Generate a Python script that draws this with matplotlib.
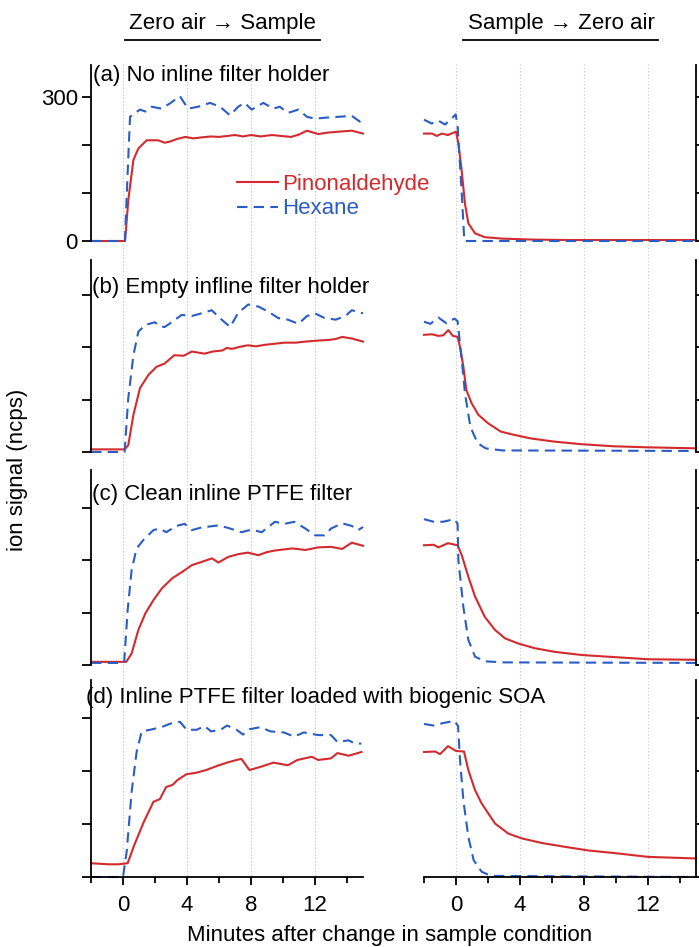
import numpy as np
import matplotlib.pyplot as plt
from matplotlib.lines import Line2D
from matplotlib.transforms import blended_transform_factory

plt.rcParams['font.family'] = ['Liberation Sans', 'DejaVu Sans']

RED = '#d42a2e'
BLUE = '#2a5cc6'

# (minutes, signal).
# panel (a) in ncps; panels (b)-(d) in tick units (one y tick = 1)
a_up_pin = [(-2, 0), (0.13, 0), (0.33, 85), (0.65, 169), (0.96, 193), (1.48, 210), (2.2, 210), (2.6, 205),
            (2.9, 207), (3.4, 213), (3.9, 217), (4.4, 214), (4.9, 216), (5.5, 218), (6.0, 217), (6.5, 219),
            (7.0, 221), (7.5, 218), (8.0, 221), (8.6, 218), (9.3, 221), (9.9, 219), (10.5, 217), (11.0, 222),
            (11.5, 230), (12.2, 223), (12.8, 226), (13.5, 228), (14.3, 230), (15, 224)]
a_up_hex = [(-2, 0), (0.12, 0), (0.3, 150), (0.44, 259), (1.06, 274), (1.4, 270), (1.79, 280), (2.4, 276),
            (2.94, 287), (3.56, 302), (4.06, 276), (4.7, 280), (5.44, 288), (6.06, 280), (6.69, 262), (7.2, 280),
            (7.6, 288), (8.04, 274), (8.77, 288), (9.4, 276), (9.8, 280), (10.3, 267), (10.96, 274), (11.5, 259),
            (12.0, 255), (12.6, 257), (13.5, 259), (14.3, 261), (14.8, 249), (15, 259)]
a_dn_pin = [(-2, 224), (-1.5, 224), (-1.2, 219), (-0.9, 224), (-0.5, 221), (0, 228), (0.15, 203), (0.35, 148),
            (0.56, 78), (0.77, 37), (1.19, 16), (1.8, 8), (2.85, 5), (4.7, 3), (7, 2), (10, 2), (12.5, 2), (15, 2)]
a_dn_hex = [(-2, 253), (-1.52, 245), (-1.1, 251), (-0.69, 243), (-0.27, 255), (-0.02, 264), (0.1, 240),
            (0.36, 99), (0.52, 0), (15, 0)]

b_up_pin = [(-2, 0.05), (0.1, 0.05), (0.33, 0.13), (0.65, 0.71), (1.06, 1.22), (1.58, 1.47), (2.1, 1.63),
            (2.6, 1.69), (3.2, 1.85), (3.8, 1.84), (4.3, 1.92), (5.1, 1.88), (5.6, 1.92), (6.2, 1.94), (6.5, 1.99),
            (6.8, 1.97), (7.3, 2.01), (7.8, 2.04), (8.3, 2.02), (8.9, 2.05), (9.5, 2.07), (10.1, 2.09), (10.8, 2.09),
            (11.4, 2.11), (12.2, 2.13), (12.8, 2.14), (13.3, 2.16), (13.7, 2.2), (14.3, 2.17), (15, 2.11)]
b_up_hex = [(-2, 0), (0.1, 0), (0.33, 1.03), (0.65, 1.85), (0.96, 2.3), (1.4, 2.43), (2.0, 2.48), (2.3, 2.4),
            (2.6, 2.39), (2.9, 2.45), (3.67, 2.62), (4.3, 2.6), (4.9, 2.65), (5.54, 2.71), (6.2, 2.52), (6.7, 2.39),
            (7.2, 2.66), (7.83, 2.82), (8.46, 2.78), (9.1, 2.68), (9.7, 2.56), (10.3, 2.53), (10.97, 2.45),
            (11.5, 2.6), (12.0, 2.65), (12.6, 2.56), (13.3, 2.53), (13.9, 2.6), (14.3, 2.71), (15, 2.65)]
b_dn_pin = [(-2, 2.24), (-1.5, 2.25), (-1.1, 2.22), (-0.8, 2.23), (-0.48, 2.33), (-0.2, 2.22), (0.1, 2.2),
            (0.25, 2.01), (0.46, 1.63), (0.65, 1.18), (0.98, 0.93), (1.4, 0.71), (2.0, 0.55), (2.8, 0.39),
            (3.6, 0.33), (4.66, 0.26), (6.1, 0.2), (7.8, 0.15), (9.8, 0.11), (11.9, 0.09), (15, 0.07)]
b_dn_hex = [(-2, 2.49), (-1.6, 2.45), (-1.1, 2.57), (-0.6, 2.46), (-0.1, 2.55), (0.1, 2.5), (0.36, 1.76),
            (0.56, 1.12), (0.9, 0.48), (1.35, 0.17), (1.85, 0.07), (2.9, 0.03), (15, 0.02)]

c_up_pin = [(-2, 0.06), (0.2, 0.06), (0.54, 0.22), (0.96, 0.67), (1.4, 0.99), (1.9, 1.24), (2.44, 1.47),
            (3.08, 1.66), (3.7, 1.78), (4.3, 1.91), (4.9, 1.97), (5.56, 2.04), (5.96, 1.96), (6.6, 2.07),
            (7.2, 2.12), (7.8, 2.15), (8.46, 2.1), (9.0, 2.16), (9.5, 2.19), (10.6, 2.23), (11.4, 2.2),
            (12.2, 2.25), (13.0, 2.26), (13.7, 2.22), (14.3, 2.34), (15, 2.28)]
c_up_hex = [(-2, 0.04), (0.07, 0.04), (0.29, 1.05), (0.54, 1.82), (0.85, 2.23), (1.27, 2.39), (1.9, 2.58),
            (2.3, 2.61), (2.7, 2.54), (3.35, 2.66), (3.85, 2.7), (4.3, 2.58), (4.9, 2.63), (5.96, 2.67),
            (6.6, 2.62), (7.4, 2.54), (8.04, 2.59), (8.67, 2.54), (9.5, 2.74), (10.1, 2.7), (10.7, 2.74),
            (11.4, 2.61), (12.0, 2.48), (12.6, 2.48), (13.0, 2.61), (13.7, 2.71), (14.3, 2.66), (14.7, 2.58),
            (15, 2.64)]
c_dn_pin = [(-2, 2.29), (-1.4, 2.3), (-1.1, 2.25), (-0.5, 2.33), (0.1, 2.29), (0.36, 2.1), (0.77, 1.69),
            (1.19, 1.31), (1.8, 0.92), (2.44, 0.67), (3.06, 0.51), (3.9, 0.41), (4.94, 0.32), (6.2, 0.25),
            (7.9, 0.19), (9.96, 0.15), (12.0, 0.11), (15, 0.1)]
c_dn_hex = [(-2, 2.79), (-1.4, 2.74), (-0.8, 2.74), (-0.1, 2.79), (0.1, 2.7), (0.15, 2.0), (0.46, 1.11),
            (0.77, 0.48), (1.19, 0.16), (1.8, 0.07), (3, 0.05), (15, 0.04)]

d_up_pin = [(-2, 0.26), (-0.9, 0.24), (-0.3, 0.24), (0.29, 0.26), (0.7, 0.6), (1.3, 1.04), (1.9, 1.42),
            (2.3, 1.47), (2.7, 1.7), (3.1, 1.74), (3.4, 1.83), (3.96, 1.94), (4.6, 1.97), (5.2, 2.02), (5.9, 2.1),
            (6.5, 2.16), (7.1, 2.21), (7.4, 2.23), (7.9, 2.02), (8.6, 2.08), (9.4, 2.16), (10.3, 2.11),
            (10.9, 2.21), (11.8, 2.27), (12.2, 2.21), (13.0, 2.24), (13.4, 2.34), (14.1, 2.29), (14.9, 2.36)]
d_up_hex = [(-2, 0), (0.0, 0), (0.23, 0.48), (0.54, 1.61), (0.85, 2.36), (1.17, 2.75), (1.69, 2.78),
            (2.4, 2.83), (3.0, 2.9), (3.56, 2.93), (3.98, 2.78), (4.6, 2.78), (5.1, 2.85), (5.5, 2.75),
            (6.1, 2.78), (6.5, 2.86), (7.1, 2.78), (7.5, 2.69), (7.9, 2.79), (8.6, 2.83), (9.2, 2.75),
            (10.05, 2.73), (10.7, 2.65), (11.3, 2.73), (12.2, 2.68), (13.0, 2.68), (13.4, 2.55), (14.1, 2.58),
            (14.5, 2.52), (14.9, 2.52)]
d_dn_pin = [(-2, 2.36), (-1.3, 2.37), (-1.0, 2.32), (-0.5, 2.47), (0.0, 2.38), (0.5, 2.37), (0.77, 2.02),
            (1.19, 1.64), (1.6, 1.39), (2.44, 1.01), (3.27, 0.82), (4.1, 0.73), (5.4, 0.64), (6.8, 0.57),
            (8.3, 0.5), (9.96, 0.45), (12.0, 0.38), (15, 0.35)]
d_dn_hex = [(-2, 2.89), (-1.4, 2.86), (-0.9, 2.9), (-0.1, 2.95), (0.13, 2.85), (0.25, 2.21), (0.46, 1.45),
            (0.77, 0.76), (1.1, 0.32), (1.6, 0.1), (2.2, 0.02), (15, 0)]

panel_titles = ['(a) No inline filter holder', '(b) Empty infline filter holder',
                '(c) Clean inline PTFE filter', '(d) Inline PTFE filter loaded with biogenic SOA']
up_data = [(a_up_pin, a_up_hex), (b_up_pin, b_up_hex), (c_up_pin, c_up_hex), (d_up_pin, d_up_hex)]
dn_data = [(a_dn_pin, a_dn_hex), (b_dn_pin, b_dn_hex), (c_dn_pin, c_dn_hex), (d_dn_pin, d_dn_hex)]
y_ticks = [[0, 100, 200, 300], [0, 1, 2, 3], [0, 1, 2, 3], [0, 1, 2, 3]]
y_tops = [367, 3.67, 3.73, 3.72]

W, H = 699, 947
FS = 16

def fx(px):
    return px / W

def fy(py):
    return 1 - py / H

# pixel rows (top, zero line) of each panel
rows = [(65, 241), (260, 452), (470, 665), (680, 877)]
cols = [91, 424]
col_w = 272

fig = plt.figure(figsize=(W / 100, H / 100), dpi=100)

axes = []
for i, (top, bot) in enumerate(rows):
    pair = []
    for j, left in enumerate(cols):
        ax = fig.add_axes([fx(left), fy(bot), col_w / W, (bot - top) / H])
        ax.patch.set_visible(False)
        data = up_data[i] if j == 0 else dn_data[i]
        pin = np.array(data[0])
        hexa = np.array(data[1])
        ax.plot(pin[:, 0], pin[:, 1], color=RED, lw=1.5, clip_on=False, label='Pinonaldehyde')
        ax.plot(hexa[:, 0], hexa[:, 1], color=BLUE, lw=1.5, ls=(0, (5, 3)), clip_on=False, label='Hexane')
        ax.set_xlim(-2, 15)
        ax.set_ylim(0, y_tops[i])
        for s in ['top', 'left', 'right', 'bottom']:
            ax.spines[s].set_linewidth(1.3)
        ax.spines['top'].set_visible(False)
        if j == 0:
            ax.spines['right'].set_visible(False)
        else:
            ax.spines['left'].set_visible(False)
            ax.yaxis.tick_right()
        ax.set_yticks(y_ticks[i])
        if i == 0 and j == 0:
            ax.set_yticklabels(['0', '', '', '300'])
        else:
            ax.set_yticklabels([])
        ax.tick_params(axis='y', direction='out', length=6.5, width=1.3, labelsize=FS, pad=3)
        if i < 3:
            ax.spines['bottom'].set_visible(False)
            ax.tick_params(axis='x', bottom=False, labelbottom=False)
        else:
            ax.set_xticks([0, 4, 8, 12])
            ax.set_xticks([-2, 2, 6, 10, 14], minor=True)
            ax.tick_params(axis='x', which='major', direction='out', length=6, width=1.3, labelsize=FS, pad=7)
            ax.tick_params(axis='x', which='minor', direction='out', length=4, width=1.3)
        pair.append(ax)
    axes.append(pair)

# dotted vertical guides through all four panels
for j in range(2):
    trans = blended_transform_factory(axes[3][j].transData, fig.transFigure)
    for xv in [0, 4, 8, 12]:
        fig.add_artist(Line2D([xv, xv], [fy(64), fy(877)], transform=trans, color='#c4c4c4',
                              lw=0.8, ls=(0, (1, 2)), zorder=-1))

# panel captions
cap_pos = [(93, 76), (92, 287), (92, 494), (86, 697)]
for title, (px, py) in zip(panel_titles, cap_pos):
    fig.text(fx(px), fy(py), title, fontsize=FS, va='center', ha='left')

# column headers with underline
fig.text(fx(222), fy(23), 'Zero air \u2192 Sample', fontsize=FS, ha='center', va='center')
fig.text(fx(561), fy(23), 'Sample \u2192 Zero air', fontsize=FS, ha='center', va='center')
fig.add_artist(Line2D([fx(125), fx(320)], [fy(40), fy(40)], color='black', lw=1.3))
fig.add_artist(Line2D([fx(463), fx(658)], [fy(40), fy(40)], color='black', lw=1.3))

fig.text(fx(18), fy(470), 'ion signal (ncps)', fontsize=FS, rotation=90, ha='center', va='center')
fig.text(fx(390), fy(935), 'Minutes after change in sample condition', fontsize=FS, ha='center', va='center')

leg = axes[0][0].legend(loc='upper left', bbox_to_anchor=(fx(237), fy(174)), bbox_transform=fig.transFigure,
                        frameon=False, fontsize=FS, handlelength=1.85, handletextpad=0.2, labelspacing=0.15,
                        borderpad=0, borderaxespad=0, labelcolor='linecolor')

fig.savefig('out.png', dpi=100)
